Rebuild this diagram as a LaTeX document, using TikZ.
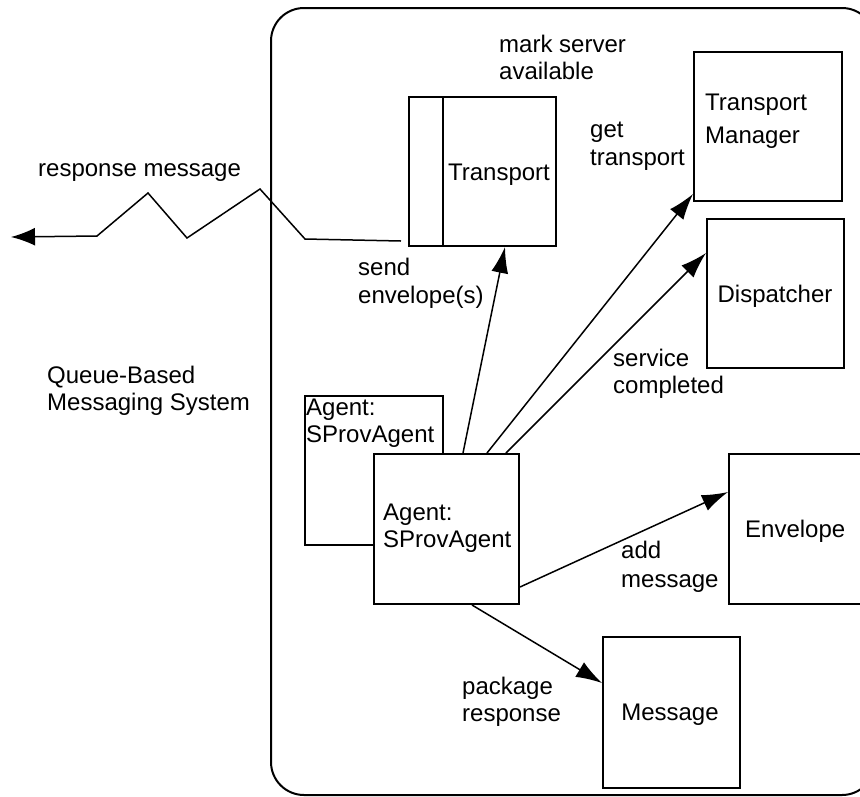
\documentclass[tikz,border=0pt]{standalone}
\usepackage{fontspec}
\setmainfont{Liberation Sans}
\usetikzlibrary{arrows.meta}
\begin{document}
\begin{tikzpicture}[x=1pt,y=-1pt,
  box/.style={draw,line width=2pt,fill=white,inner sep=0pt,anchor=north west},
  lbl/.style={anchor=base west,align=left,inner sep=0pt,font=\fontsize{24}{27}\selectfont},
  clbl/.style={lbl,anchor=base},
  conn/.style={line width=1.5pt,-{Latex[length=26pt,width=17pt]}},
]
\clip (0,0) rectangle (860,796);

% system boundary
\draw[line width=2pt,rounded corners=33pt] (271,8) rectangle (875,795);

% components (multi-line labels are placed by the baseline of their last line)
\node[box,minimum width=147pt,minimum height=149pt] (transport) at (408,96) {};
\draw[line width=2pt] ([xshift=35pt]transport.north west) -- ([xshift=35pt]transport.south west);
\node[clbl] (transportlbl) at (499,180) {Transport};

\node[box,minimum width=148pt,minimum height=149pt] (tm) at (693,51) {};
\node[lbl] (tmlbl) at (705,143) {Transport\\[6pt]Manager};

\node[box,minimum width=137pt,minimum height=149pt] (dispatcher) at (706,218) {};
\node[clbl] (displbl) at (775,302) {Dispatcher};

\node[box,minimum width=138pt,minimum height=149pt] (agentback) at (304,395) {};
\node[lbl] (agentbacklbl) at (306,442) {Agent:\\SProvAgent};

\node[box,minimum width=145pt,minimum height=150pt] (agent) at (373,453) {};
\node[lbl] (agentlbl) at (383,547) {Agent:\\SProvAgent};

\node[box,minimum width=150pt,minimum height=150pt] (envelope) at (728,453) {};
\node[lbl] (envlbl) at (745,537) {Envelope};

\node[box,minimum width=137pt,minimum height=151pt] (message) at (602,636) {};
\node[clbl] (msglbl) at (670,720) {Message};

% free-standing labels
\node[lbl] (marklbl) at (499,79) {mark server\\available};
\node[lbl] (getlbl) at (590,165) {get\\[1pt]transport};
\node[lbl] (sendlbl) at (358,303) {send\\[1pt]envelope(s)};
\node[lbl] (servlbl) at (613,393) {service\\completed};
\node[lbl] (addlbl) at (621,587) {add\\[2pt]message};
\node[lbl] (packlbl) at (462,721) {package\\response};
\node[lbl] (queuelbl) at (47,410) {Queue-Based\\Messaging System};
\node[lbl] (resplbl) at (38,176) {response message};

% connectors
\draw[conn] ([xshift=90pt]agent.north west) -- ([xshift=97pt]transport.south west);
\draw[conn] ([xshift=114pt]agent.north west) -- ([yshift=8pt]tm.south west);
\draw[conn] ([xshift=133pt]agent.north west) -- ([yshift=-35pt]dispatcher.north west);
\draw[conn] ([yshift=18pt]agent.south east) -- ([yshift=-39pt]envelope.north west);
\draw[conn] ([xshift=99pt]agent.south west) -- ([yshift=-47pt]message.north west);

% outgoing response message (zigzag)
\coordinate (respend) at (11,237);
\draw[line width=1.5pt,-{Latex[length=24pt,width=18pt]}]
  ([shift={(-7pt,6pt)}]transport.south west) -- (305,239) -- (260,189) -- (187,238)
  -- (148,193) -- (97,236) -- (respend);
\end{tikzpicture}
\end{document}
